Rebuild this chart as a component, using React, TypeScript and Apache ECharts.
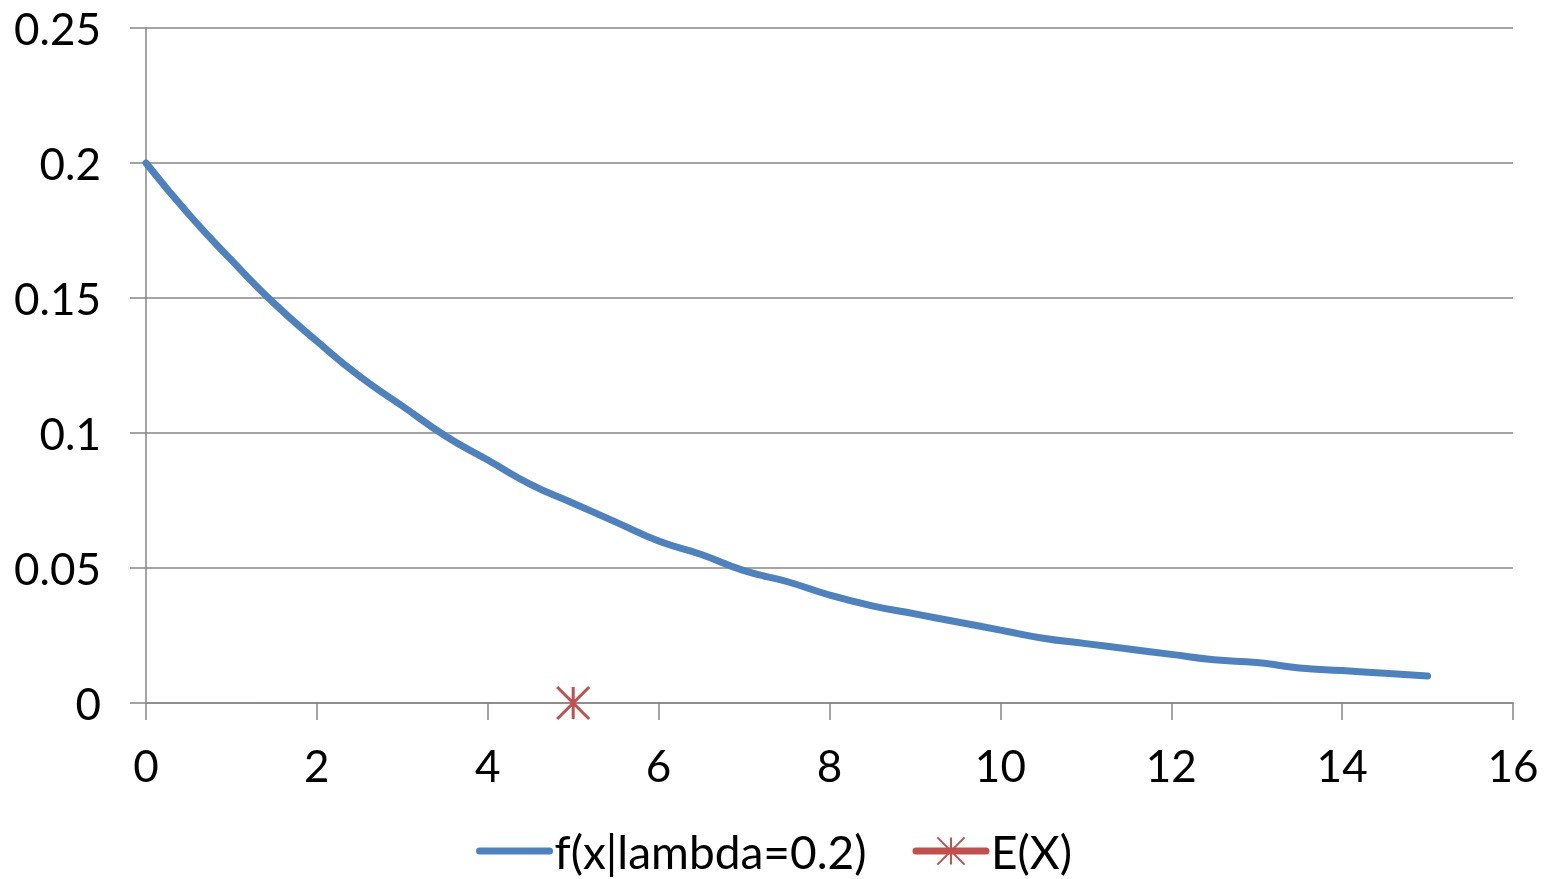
import React, { useEffect, useRef } from "react";
import * as echarts from "echarts";

const xValues = [0, 0.5, 1, 1.5, 2, 2.5, 3, 3.5, 4, 4.5, 5, 5.5, 6, 6.5, 7, 7.5, 8, 8.5, 9, 9.5, 10, 10.5, 11, 11.5, 12, 12.5, 13, 13.5, 14, 14.5, 15];
const densityValues = [0.2, 0.181, 0.164, 0.148, 0.134, 0.121, 0.11, 0.099, 0.09, 0.081, 0.074, 0.067, 0.06, 0.055, 0.049, 0.045, 0.04, 0.036, 0.033, 0.03, 0.027, 0.024, 0.022, 0.02, 0.018, 0.016, 0.015, 0.013, 0.012, 0.011, 0.01];
const expectedPoint = [[5, 0]];
const seriesNames = ["f(x|lambda=0.2)", "E(X)"];

const FONT = "Lato";
const STAR = "path://M0,-10L0,10M-10,-10L10,10M-10,10L10,-10";

export default function App() {
  const ref = useRef<HTMLDivElement>(null);
  useEffect(() => {
    const chart = echarts.init(ref.current!, null, { renderer: "svg" });
    chart.setOption({
      animation: false,
      textStyle: { fontFamily: FONT },
      grid: { left: 146, right: 35, top: 28, bottom: 176 },
      xAxis: {
        type: "value",
        min: 0,
        max: 16,
        interval: 2,
        axisLine: { show: true, lineStyle: { color: "#868686", width: 1.5 } },
        axisTick: { show: true, length: 17, lineStyle: { color: "#868686", width: 1.5 } },
        axisLabel: { color: "#000", fontSize: 44, fontFamily: FONT, margin: 40 },
        splitLine: { show: false },
      },
      yAxis: {
        type: "value",
        min: 0,
        max: 0.25,
        interval: 0.05,
        axisLine: { show: true, lineStyle: { color: "#868686", width: 1.5 } },
        axisTick: { show: true, length: 16, lineStyle: { color: "#868686", width: 1.5 } },
        axisLabel: { color: "#000", fontSize: 44, fontFamily: FONT, margin: 45 },
        splitLine: { show: true, lineStyle: { color: "#868686", width: 1.5 } },
      },
      legend: {
        bottom: 0,
        left: "center",
        itemWidth: 70,
        itemHeight: 34,
        itemGap: 46,
        textStyle: { fontSize: 46, color: "#000", fontFamily: FONT },
        data: [
          { name: seriesNames[0], itemStyle: { opacity: 0 }, lineStyle: { width: 7, cap: "round" } },
          { name: seriesNames[1], lineStyle: { width: 7, cap: "round" } },
        ],
      },
      series: [
        {
          name: seriesNames[0],
          type: "line",
          data: xValues.map((x, i) => [x, densityValues[i]]),
          smooth: true,
          showSymbol: false,
          symbol: "none",
          lineStyle: { color: "#4F81BD", width: 7, cap: "round" },
          itemStyle: { color: "#4F81BD" },
        },
        {
          name: seriesNames[1],
          type: "line",
          data: expectedPoint,
          symbol: STAR,
          symbolSize: 32,
          lineStyle: { color: "#C0504D", width: 7 },
          itemStyle: { color: "#C0504D", borderColor: "#C0504D", borderWidth: 3 },
          z: 5,
        },
      ],
    });
    return () => chart.dispose();
  }, []);
  return <div ref={ref} style={{ position: "fixed", left: 0, top: 0, width: 1548, height: 879 }} />;
}
